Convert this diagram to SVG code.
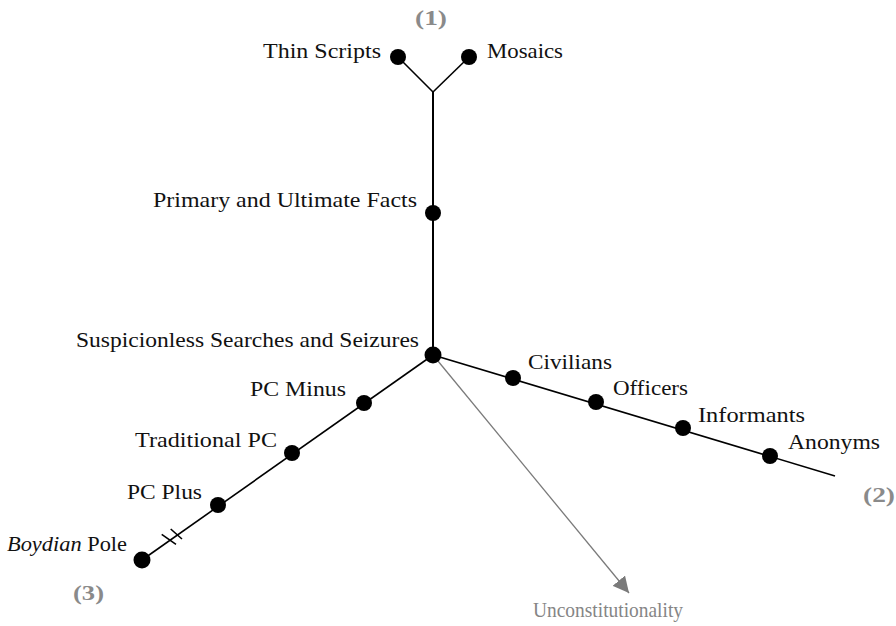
<svg xmlns="http://www.w3.org/2000/svg" width="896" height="626" viewBox="0 0 896 626">
<style>
.lbl{font-family:"Liberation Serif","Times New Roman",serif;font-size:21px;fill:#111}
.num{font-family:"Liberation Serif","Times New Roman",serif;font-size:21px;font-weight:bold;fill:#8a8a8a}
.gray{font-family:"Liberation Serif","Times New Roman",serif;font-size:21px;fill:#858585}
.dot{fill:#000}
.edge{stroke:#000;stroke-width:1.6;fill:none}
.stem{stroke:#000;stroke-width:2;fill:none}
</style>
<defs>
<marker id="ah" markerUnits="userSpaceOnUse" markerWidth="18" markerHeight="16" refX="16" refY="8" orient="auto">
<polygon points="0,0 16,8 0,16" fill="#7a7a7a"/>
</marker>
</defs>
<rect width="896" height="626" fill="#fff"/>
<g id="connectors">
<line class="stem" x1="433" y1="92" x2="433" y2="355"/>
<line class="edge" x1="433" y1="92" x2="398" y2="57"/>
<line class="edge" x1="433" y1="92" x2="469" y2="57"/>
<line class="edge" x1="433" y1="355" x2="142" y2="560"/>
<line class="edge" x1="433" y1="355" x2="835" y2="476"/>
<line stroke="#7a7a7a" stroke-width="1.3" x1="433" y1="355" x2="629" y2="593" marker-end="url(#ah)"/>
<line class="edge" x1="161.7" y1="534.3" x2="176" y2="544.3"/>
<line class="edge" x1="170.7" y1="529" x2="182" y2="539"/>
</g>
<g id="label-1"><text class="num" x="415" y="25" textLength="32" lengthAdjust="spacingAndGlyphs">(1)</text></g>
<g id="label-2"><text class="num" x="863" y="502" textLength="32" lengthAdjust="spacingAndGlyphs">(2)</text></g>
<g id="label-3"><text class="num" x="73" y="600" textLength="31" lengthAdjust="spacingAndGlyphs">(3)</text></g>
<g id="thin-scripts"><circle class="dot" cx="398" cy="57" r="8"/><text class="lbl" x="381" y="58" text-anchor="end" textLength="118" lengthAdjust="spacingAndGlyphs">Thin Scripts</text></g>
<g id="mosaics"><circle class="dot" cx="469" cy="57" r="8"/><text class="lbl" x="487" y="58" textLength="76" lengthAdjust="spacingAndGlyphs">Mosaics</text></g>
<g id="primary-ultimate"><circle class="dot" cx="433" cy="213" r="8"/><text class="lbl" x="417" y="207" text-anchor="end" textLength="264" lengthAdjust="spacingAndGlyphs">Primary and Ultimate Facts</text></g>
<g id="suspicionless"><circle class="dot" cx="433" cy="355" r="8.5"/><text class="lbl" x="419" y="347" text-anchor="end" textLength="343" lengthAdjust="spacingAndGlyphs">Suspicionless Searches and Seizures</text></g>
<g id="pc-minus"><circle class="dot" cx="364" cy="403" r="8"/><text class="lbl" x="346" y="396" text-anchor="end" textLength="96" lengthAdjust="spacingAndGlyphs">PC Minus</text></g>
<g id="traditional-pc"><circle class="dot" cx="292" cy="453" r="8"/><text class="lbl" x="277" y="447" text-anchor="end" textLength="142" lengthAdjust="spacingAndGlyphs">Traditional PC</text></g>
<g id="pc-plus"><circle class="dot" cx="218" cy="505" r="8"/><text class="lbl" x="202" y="499" text-anchor="end" textLength="75" lengthAdjust="spacingAndGlyphs">PC Plus</text></g>
<g id="boydian-pole"><circle class="dot" cx="142" cy="560" r="8.5"/><text class="lbl" x="7" y="551" textLength="120" lengthAdjust="spacingAndGlyphs"><tspan font-style="italic">Boydian</tspan> Pole</text></g>
<g id="civilians"><circle class="dot" cx="513" cy="378" r="8"/><text class="lbl" x="528" y="369" textLength="84" lengthAdjust="spacingAndGlyphs">Civilians</text></g>
<g id="officers"><circle class="dot" cx="596" cy="402" r="8"/><text class="lbl" x="613" y="395" textLength="75" lengthAdjust="spacingAndGlyphs">Officers</text></g>
<g id="informants"><circle class="dot" cx="683" cy="428" r="8"/><text class="lbl" x="698" y="422" textLength="107" lengthAdjust="spacingAndGlyphs">Informants</text></g>
<g id="anonyms"><circle class="dot" cx="770" cy="456" r="8"/><text class="lbl" x="788" y="449" textLength="92" lengthAdjust="spacingAndGlyphs">Anonyms</text></g>
<g id="unconstitutionality"><text class="gray" x="533" y="617" textLength="150" lengthAdjust="spacingAndGlyphs">Unconstitutionality</text></g>
</svg>
